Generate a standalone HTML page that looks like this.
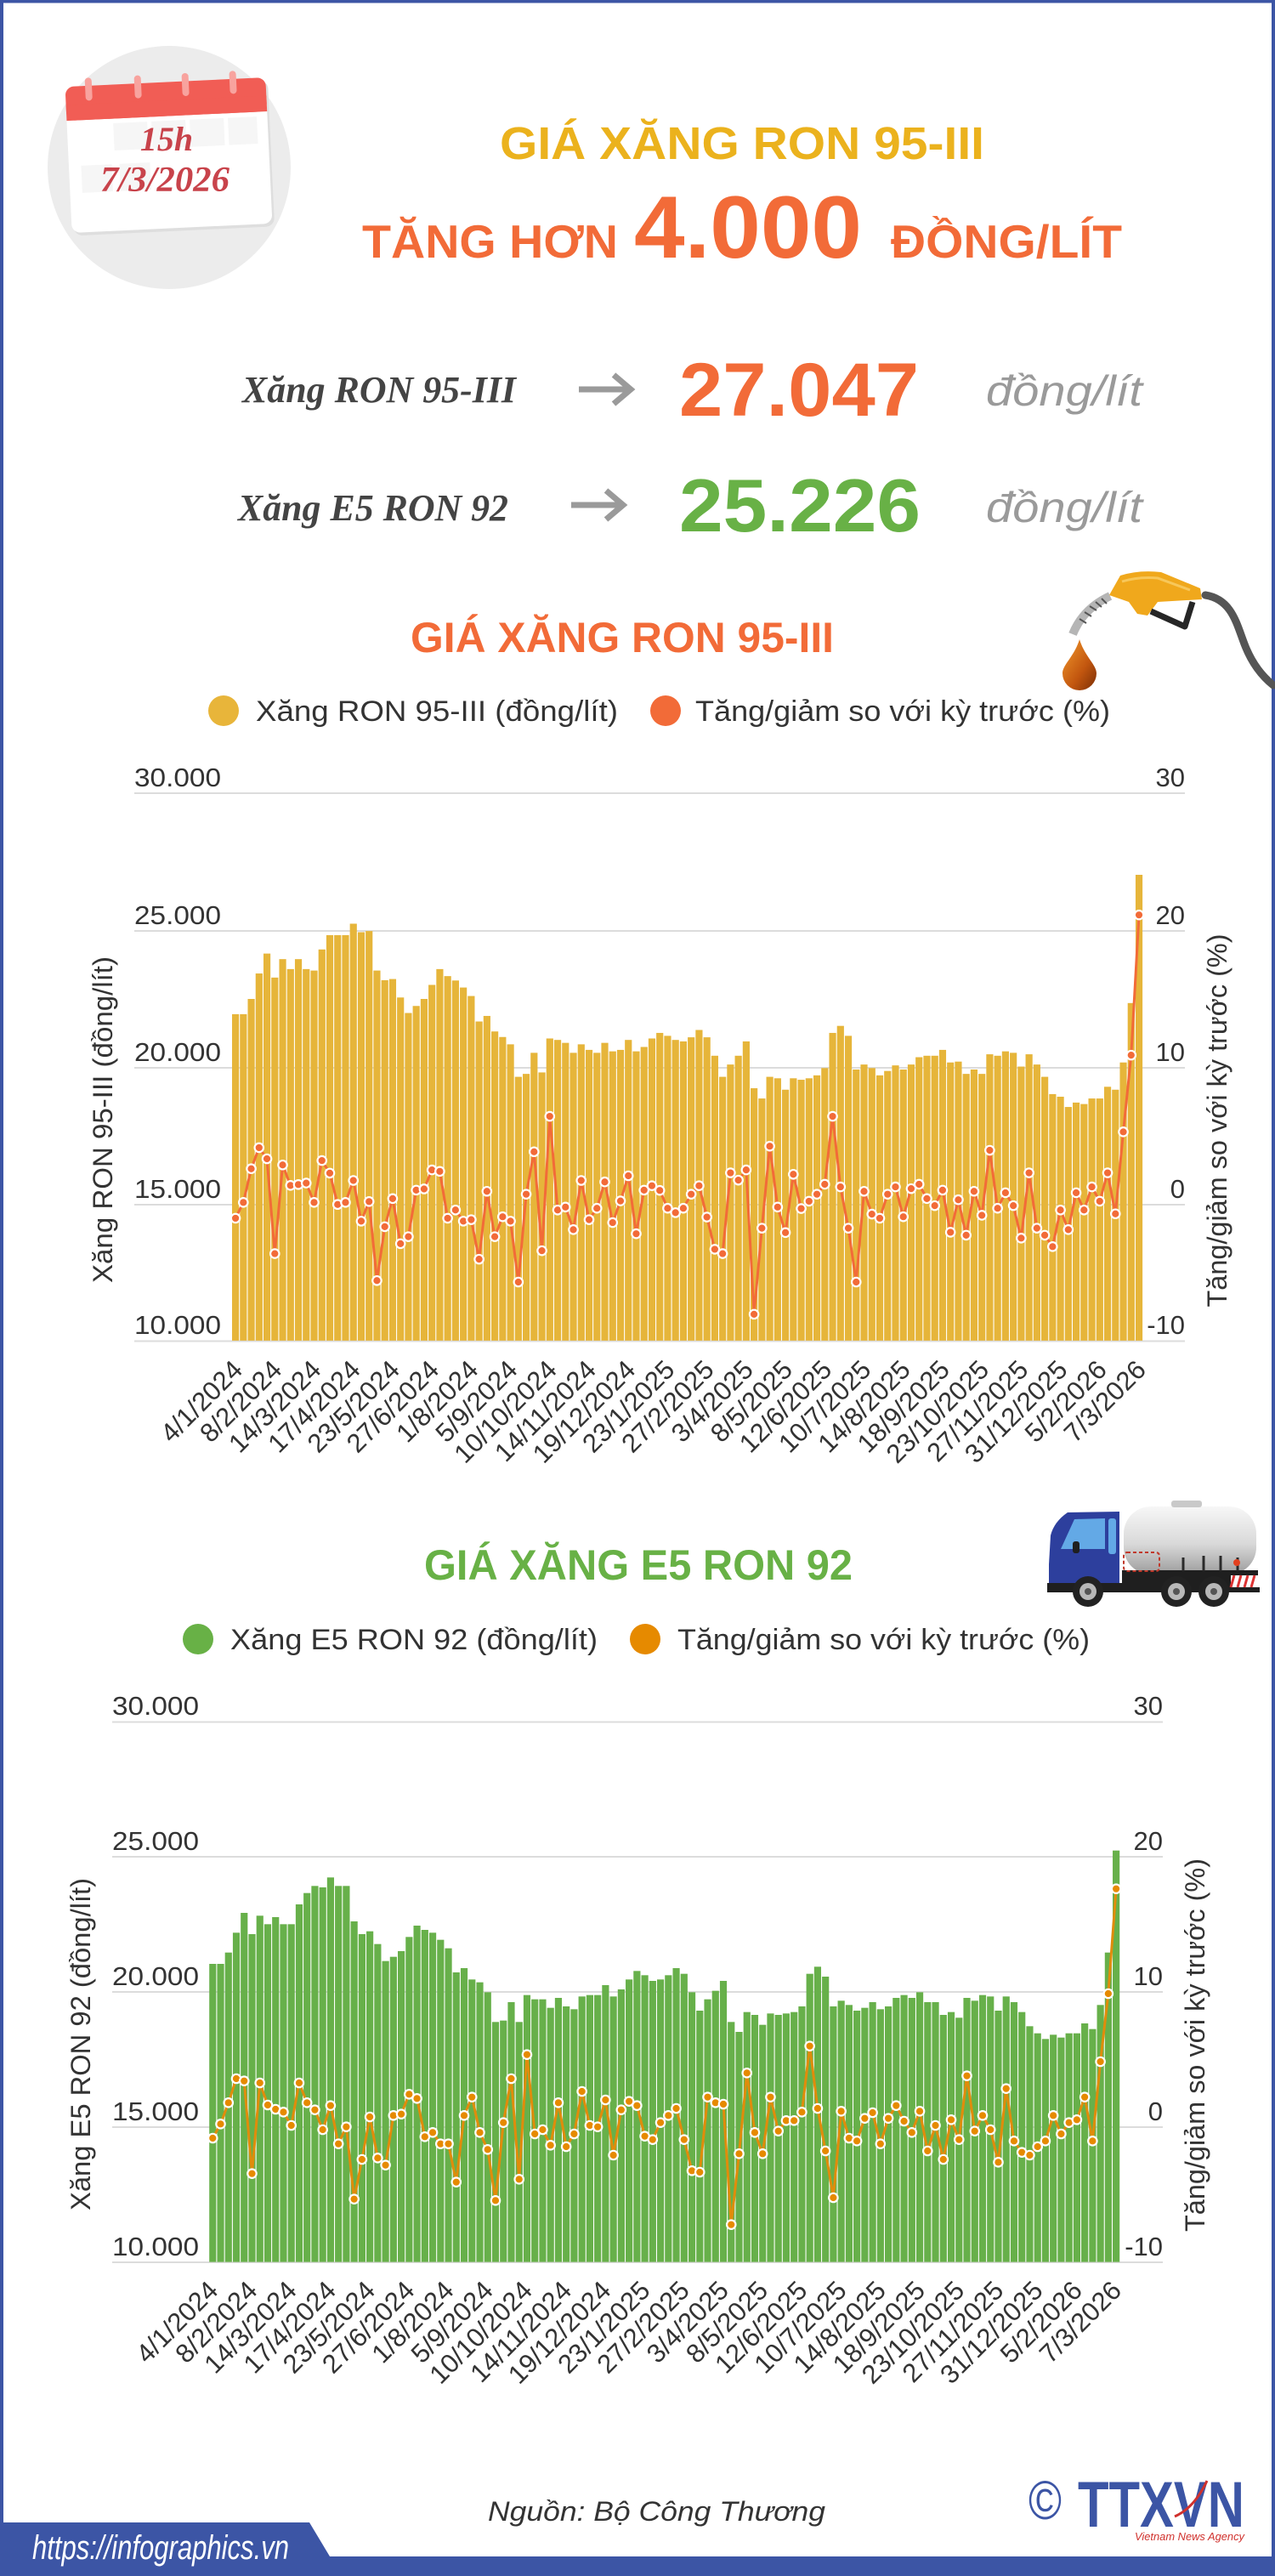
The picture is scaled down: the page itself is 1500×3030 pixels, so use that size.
<!DOCTYPE html>
<html><head><meta charset="utf-8">
<style>
html,body{margin:0;padding:0;background:#fff}
svg{display:block}
text{font-family:"Liberation Sans",sans-serif}
.ln{fill:none;stroke-width:3;vector-effect:non-scaling-stroke;stroke-linejoin:round}
.dt ellipse{stroke:#fff;stroke-width:2.2;vector-effect:non-scaling-stroke}
</style></head>
<body>
<svg width="1500" height="3030" viewBox="0 0 1500 3030" xmlns="http://www.w3.org/2000/svg">
<defs>
<linearGradient id="tank" x1="0" y1="0" x2="0" y2="1"><stop offset="0" stop-color="#f7f7f7"/><stop offset="0.55" stop-color="#d9d9d9"/><stop offset="1" stop-color="#9c9c9c"/></linearGradient>
<linearGradient id="drop" x1="0" y1="0" x2="1" y2="1"><stop offset="0" stop-color="#f39a2c"/><stop offset="0.6" stop-color="#c2560f"/><stop offset="1" stop-color="#7a2e05"/></linearGradient>
<clipPath id="cl1"><rect x="-2" y="-300" width="130" height="1830"/></clipPath>
<clipPath id="cl2"><rect x="-2" y="-300" width="130" height="1802"/></clipPath>
</defs>
<rect width="1500" height="3030" fill="#fff"/>
<rect x="2" y="1.5" width="1496" height="3027" fill="none" stroke="#3c55a5" stroke-width="4"/>

<!-- calendar -->
<circle cx="199" cy="197" r="143" fill="#ececec"/>
<g transform="rotate(-2.7 198.5 182.5)">
<rect x="83" y="100" width="236" height="172" rx="10" fill="#dedede"/>
<rect x="80.5" y="96.5" width="236" height="172" rx="10" fill="#fff"/>
<rect x="80.5" y="96.5" width="236" height="40" rx="10" fill="#f15d55"/>
<rect x="80.5" y="118" width="236" height="18.5" fill="#f15d55"/>
<rect x="135" y="142" width="40" height="32" fill="#f6f6f6"/><rect x="180" y="142" width="40" height="32" fill="#f6f6f6"/><rect x="225" y="142" width="40" height="32" fill="#f6f6f6"/><rect x="270" y="142" width="34" height="32" fill="#f6f6f6"/>
<rect x="95" y="190" width="36" height="32" fill="#f6f6f6"/><rect x="140" y="190" width="36" height="32" fill="#f6f6f6"/>
<rect x="104" y="87" width="8" height="27" rx="4" fill="#f8a39e"/>
<rect x="162" y="87" width="8" height="27" rx="4" fill="#f8a39e"/>
<rect x="218" y="87" width="8" height="27" rx="4" fill="#f8a39e"/>
<rect x="274" y="87" width="8" height="27" rx="4" fill="#f8a39e"/>
</g>
<text x="196" y="177" text-anchor="middle" font-size="40" font-weight="700" font-style="italic" fill="#c8434b" style="font-family:'Liberation Serif',serif">15h</text>
<text x="194" y="225" text-anchor="middle" font-size="42" font-weight="700" font-style="italic" fill="#c8434b" textLength="152" lengthAdjust="spacingAndGlyphs" style="font-family:'Liberation Serif',serif">7/3/2026</text>

<!-- header titles -->
<text x="588" y="187" font-size="54" font-weight="700" fill="#ebb21d" textLength="570" lengthAdjust="spacingAndGlyphs">GIÁ XĂNG RON 95-III</text>
<text x="426" y="303" font-size="55" font-weight="700" fill="#f26b38" textLength="301" lengthAdjust="spacingAndGlyphs">TĂNG HƠN</text>
<text x="746" y="303" font-size="104" font-weight="700" fill="#f26b38" textLength="268" lengthAdjust="spacingAndGlyphs">4.000</text>
<text x="1048" y="303" font-size="55" font-weight="700" fill="#f26b38" textLength="272" lengthAdjust="spacingAndGlyphs">ĐỒNG/LÍT</text>

<text x="285" y="473" font-size="44" font-weight="700" font-style="italic" fill="#444" textLength="322" lengthAdjust="spacingAndGlyphs" style="font-family:'Liberation Serif',serif">Xăng RON 95-III</text>
<path d="M681,458 H740 M722,441 L742,458 L722,475" fill="none" stroke="#9a9a9a" stroke-width="7"/>
<text x="799" y="489" font-size="89" font-weight="700" fill="#f26b38" textLength="282" lengthAdjust="spacingAndGlyphs">27.047</text>
<text x="1160" y="477" font-size="50" font-style="italic" fill="#9a9a9a" textLength="184" lengthAdjust="spacingAndGlyphs">đồng/lít</text>

<text x="280" y="612" font-size="44" font-weight="700" font-style="italic" fill="#444" textLength="318" lengthAdjust="spacingAndGlyphs" style="font-family:'Liberation Serif',serif">Xăng E5 RON 92</text>
<path d="M672,594 H731 M713,577 L733,594 L713,611" fill="none" stroke="#9a9a9a" stroke-width="7"/>
<text x="799" y="625" font-size="88" font-weight="700" fill="#68b146" textLength="284" lengthAdjust="spacingAndGlyphs">25.226</text>
<text x="1160" y="614" font-size="50" font-style="italic" fill="#9a9a9a" textLength="184" lengthAdjust="spacingAndGlyphs">đồng/lít</text>

<!-- nozzle -->
<path d="M1418,700 C1450,705 1455,735 1465,760 C1475,785 1488,798 1498,806" fill="none" stroke="#555" stroke-width="9" stroke-linecap="round"/>
<path d="M1262,746 Q1274,716 1306,701" fill="none" stroke="#b5b5b5" stroke-width="10"/>
<path d="M1270,728 l8,5 M1276,720 l8,5 M1282,713 l8,5 M1289,708 l7,6 M1296,704 l6,6" stroke="#555" stroke-width="2"/>
<path d="M1305,700 L1318,677 Q1340,670 1366,673 L1412,692 L1414,705 L1362,708 L1350,724 L1338,722 L1328,708 Z" fill="#f0a81c"/>
<path d="M1320,684 Q1340,678 1362,680 L1400,694" fill="none" stroke="#f7c75a" stroke-width="3"/>
<path d="M1354,719 L1394,737 L1403,708" fill="none" stroke="#262626" stroke-width="7" stroke-linejoin="round"/>
<path d="M1270,752 C1264,772 1250,782 1250,792 A20,20 0 0 0 1290,792 C1290,782 1276,772 1270,752 Z" fill="url(#drop)"/>

<!-- CHART 1 -->
<text x="483" y="767" font-size="50" font-weight="700" fill="#f26b38" textLength="498" lengthAdjust="spacingAndGlyphs">GIÁ XĂNG RON 95-III</text>
<circle cx="263" cy="836" r="18" fill="#e8b53a"/>
<text x="301" y="848" font-size="34" fill="#333" textLength="426" lengthAdjust="spacingAndGlyphs">Xăng RON 95-III (đồng/lít)</text>
<circle cx="783" cy="836" r="18" fill="#f26b38"/>
<text x="818" y="848" font-size="34" fill="#333" textLength="488" lengthAdjust="spacingAndGlyphs">Tăng/giảm so với kỳ trước (%)</text>

<g stroke="#dcdcdc" stroke-width="2">
<line x1="158" y1="933" x2="1394" y2="933"/><line x1="158" y1="1095" x2="1394" y2="1095"/><line x1="158" y1="1256" x2="1394" y2="1256"/><line x1="158" y1="1417" x2="1394" y2="1417"/><line x1="158" y1="1577.5" x2="1394" y2="1577.5"/>
</g>
<g font-size="31" fill="#333">
<text x="158" y="925" textLength="102" lengthAdjust="spacingAndGlyphs">30.000</text>
<text x="158" y="1087" textLength="102" lengthAdjust="spacingAndGlyphs">25.000</text>
<text x="158" y="1248" textLength="102" lengthAdjust="spacingAndGlyphs">20.000</text>
<text x="158" y="1409" textLength="102" lengthAdjust="spacingAndGlyphs">15.000</text>
<text x="158" y="1569" textLength="102" lengthAdjust="spacingAndGlyphs">10.000</text>
</g>
<g font-size="31" fill="#333" text-anchor="end">
<text x="1394" y="925">30</text><text x="1394" y="1087">20</text><text x="1394" y="1248">10</text><text x="1394" y="1409">0</text><text x="1394" y="1569">-10</text>
</g>
<text transform="translate(132,1317) rotate(-90)" text-anchor="middle" font-size="32" fill="#333" textLength="384" lengthAdjust="spacingAndGlyphs">Xăng RON 95-III (đồng/lít)</text>
<text transform="translate(1443,1318) rotate(-90)" text-anchor="middle" font-size="32" fill="#333" textLength="439" lengthAdjust="spacingAndGlyphs">Tăng/giảm so với kỳ trước (%)</text>

<g transform="translate(273,1050) scale(9.243,0.344353)">
<g clip-path="url(#cl1)" fill="#e6b53a">
<rect x="0" y="415" width=".885" height="1700"/><rect x="1" y="415" width=".885" height="1700"/><rect x="2" y="363" width=".885" height="1700"/><rect x="3" y="276" width=".885" height="1700"/><rect x="4" y="208" width=".885" height="1700"/><rect x="5" y="290" width=".885" height="1700"/><rect x="6" y="227" width=".885" height="1700"/><rect x="7" y="261" width=".885" height="1700"/><rect x="8" y="227" width=".885" height="1700"/><rect x="9" y="261" width=".885" height="1700"/>
<rect x="10" y="266" width=".885" height="1700"/><rect x="11" y="194" width=".885" height="1700"/><rect x="12" y="145" width=".885" height="1700"/><rect x="13" y="145" width=".885" height="1700"/><rect x="14" y="145" width=".885" height="1700"/><rect x="15" y="106" width=".885" height="1700"/><rect x="16" y="135" width=".885" height="1700"/><rect x="17" y="131" width=".885" height="1700"/><rect x="18" y="266" width=".885" height="1700"/><rect x="19" y="299" width=".885" height="1700"/>
<rect x="20" y="295" width=".885" height="1700"/><rect x="21" y="358" width=".885" height="1700"/><rect x="22" y="411" width=".885" height="1700"/><rect x="23" y="387" width=".885" height="1700"/><rect x="24" y="363" width=".885" height="1700"/><rect x="25" y="315" width=".885" height="1700"/><rect x="26" y="261" width=".885" height="1700"/><rect x="27" y="285" width=".885" height="1700"/><rect x="28" y="300" width=".885" height="1700"/><rect x="29" y="324" width=".885" height="1700"/>
<rect x="30" y="353" width=".885" height="1700"/><rect x="31" y="440" width=".885" height="1700"/><rect x="32" y="421" width=".885" height="1700"/><rect x="33" y="474" width=".885" height="1700"/><rect x="34" y="493" width=".885" height="1700"/><rect x="35" y="518" width=".885" height="1700"/><rect x="36" y="629" width=".885" height="1700"/><rect x="37" y="619" width=".885" height="1700"/><rect x="38" y="547" width=".885" height="1700"/><rect x="39" y="614" width=".885" height="1700"/>
<rect x="40" y="498" width=".885" height="1700"/><rect x="41" y="503" width=".885" height="1700"/><rect x="42" y="513" width=".885" height="1700"/><rect x="43" y="547" width=".885" height="1700"/><rect x="44" y="518" width=".885" height="1700"/><rect x="45" y="537" width=".885" height="1700"/><rect x="46" y="547" width=".885" height="1700"/><rect x="47" y="513" width=".885" height="1700"/><rect x="48" y="542" width=".885" height="1700"/><rect x="49" y="537" width=".885" height="1700"/>
<rect x="50" y="503" width=".885" height="1700"/><rect x="51" y="542" width=".885" height="1700"/><rect x="52" y="527" width=".885" height="1700"/><rect x="53" y="498" width=".885" height="1700"/><rect x="54" y="479" width=".885" height="1700"/><rect x="55" y="489" width=".885" height="1700"/><rect x="56" y="503" width=".885" height="1700"/><rect x="57" y="508" width=".885" height="1700"/><rect x="58" y="494" width=".885" height="1700"/><rect x="59" y="469" width=".885" height="1700"/>
<rect x="60" y="494" width=".885" height="1700"/><rect x="61" y="557" width=".885" height="1700"/><rect x="62" y="629" width=".885" height="1700"/><rect x="63" y="587" width=".885" height="1700"/><rect x="64" y="557" width=".885" height="1700"/><rect x="65" y="508" width=".885" height="1700"/><rect x="66" y="668" width=".885" height="1700"/><rect x="67" y="703" width=".885" height="1700"/><rect x="68" y="629" width=".885" height="1700"/><rect x="69" y="634" width=".885" height="1700"/>
<rect x="70" y="673" width=".885" height="1700"/><rect x="71" y="634" width=".885" height="1700"/><rect x="72" y="639" width=".885" height="1700"/><rect x="73" y="634" width=".885" height="1700"/><rect x="74" y="624" width=".885" height="1700"/><rect x="75" y="599" width=".885" height="1700"/><rect x="76" y="479" width=".885" height="1700"/><rect x="77" y="455" width=".885" height="1700"/><rect x="78" y="489" width=".885" height="1700"/><rect x="79" y="604" width=".885" height="1700"/>
<rect x="80" y="587" width=".885" height="1700"/><rect x="81" y="599" width=".885" height="1700"/><rect x="82" y="624" width=".885" height="1700"/><rect x="83" y="609" width=".885" height="1700"/><rect x="84" y="590" width=".885" height="1700"/><rect x="85" y="604" width=".885" height="1700"/><rect x="86" y="587" width=".885" height="1700"/><rect x="87" y="562" width=".885" height="1700"/><rect x="88" y="557" width=".885" height="1700"/><rect x="89" y="557" width=".885" height="1700"/>
<rect x="90" y="537" width=".885" height="1700"/><rect x="91" y="580" width=".885" height="1700"/><rect x="92" y="577" width=".885" height="1700"/><rect x="93" y="619" width=".885" height="1700"/><rect x="94" y="604" width=".885" height="1700"/><rect x="95" y="619" width=".885" height="1700"/><rect x="96" y="552" width=".885" height="1700"/><rect x="97" y="557" width=".885" height="1700"/><rect x="98" y="542" width=".885" height="1700"/><rect x="99" y="547" width=".885" height="1700"/>
<rect x="100" y="594" width=".885" height="1700"/><rect x="101" y="552" width=".885" height="1700"/><rect x="102" y="587" width=".885" height="1700"/><rect x="103" y="629" width=".885" height="1700"/><rect x="104" y="688" width=".885" height="1700"/><rect x="105" y="697" width=".885" height="1700"/><rect x="106" y="732" width=".885" height="1700"/><rect x="107" y="717" width=".885" height="1700"/><rect x="108" y="722" width=".885" height="1700"/><rect x="109" y="703" width=".885" height="1700"/>
<rect x="110" y="703" width=".885" height="1700"/><rect x="111" y="663" width=".885" height="1700"/><rect x="112" y="673" width=".885" height="1700"/><rect x="113" y="580" width=".885" height="1700"/><rect x="114" y="377" width=".885" height="1700"/><rect x="115" y="-61" width=".885" height="1700"/>
</g>
<polyline class="ln" stroke="#f26b38" points="0.44,1112 1.44,1058 2.44,943 3.44,871 4.44,909 5.44,1233 6.44,930 7.44,1000 8.44,997 9.44,992 10.44,1058 11.44,915 12.44,958 13.44,1065 14.44,1058 15.44,983 16.44,1122 17.44,1055 18.44,1325 19.44,1141 20.44,1045 21.44,1199 22.44,1175 23.44,1016 24.44,1012 25.44,947 26.44,952 27.44,1112 28.44,1084 29.44,1122 30.44,1117 31.44,1252 32.44,1020 33.44,1175 34.44,1107 35.44,1122 36.44,1330 37.44,1030 38.44,885 39.44,1223 40.44,764 41.44,1084 42.44,1074 43.44,1151 44.44,983 45.44,1117 46.44,1078 47.44,988 48.44,1127 49.44,1053 50.44,967 51.44,1165 52.44,1016 53.44,1001 54.44,1017 55.44,1078 56.44,1093 57.44,1078 58.44,1030 59.44,1001 60.44,1108 61.44,1218 62.44,1233 63.44,957 64.44,982 65.44,947 66.44,1440 67.44,1146 68.44,866 69.44,1074 70.44,1161 71.44,962 72.44,1079 73.44,1054 74.44,1030 75.44,996 76.44,764 77.44,1005 78.44,1146 79.44,1330 80.44,1020 81.44,1098 82.44,1112 83.44,1030 84.44,1005 85.44,1107 86.44,1011 87.44,996 88.44,1045 89.44,1069 90.44,1016 91.44,1160 92.44,1049 93.44,1170 94.44,1020 95.44,1102 96.44,880 97.44,1078 98.44,1025 99.44,1069 100.44,1180 101.44,957 102.44,1146 103.44,1170 104.44,1209 105.44,1084 106.44,1151 107.44,1025 108.44,1084 109.44,1005 110.44,1054 111.44,957 112.44,1097 113.44,817 114.44,555 115.44,76"/>
<g class="dt" fill="#f26b38">
<ellipse cx="0.44" cy="1112" rx=".563" ry="15.1"/><ellipse cx="1.44" cy="1058" rx=".563" ry="15.1"/><ellipse cx="2.44" cy="943" rx=".563" ry="15.1"/><ellipse cx="3.44" cy="871" rx=".563" ry="15.1"/><ellipse cx="4.44" cy="909" rx=".563" ry="15.1"/><ellipse cx="5.44" cy="1233" rx=".563" ry="15.1"/><ellipse cx="6.44" cy="930" rx=".563" ry="15.1"/><ellipse cx="7.44" cy="1000" rx=".563" ry="15.1"/><ellipse cx="8.44" cy="997" rx=".563" ry="15.1"/><ellipse cx="9.44" cy="992" rx=".563" ry="15.1"/>
<ellipse cx="10.44" cy="1058" rx=".563" ry="15.1"/><ellipse cx="11.44" cy="915" rx=".563" ry="15.1"/><ellipse cx="12.44" cy="958" rx=".563" ry="15.1"/><ellipse cx="13.44" cy="1065" rx=".563" ry="15.1"/><ellipse cx="14.44" cy="1058" rx=".563" ry="15.1"/><ellipse cx="15.44" cy="983" rx=".563" ry="15.1"/><ellipse cx="16.44" cy="1122" rx=".563" ry="15.1"/><ellipse cx="17.44" cy="1055" rx=".563" ry="15.1"/><ellipse cx="18.44" cy="1325" rx=".563" ry="15.1"/><ellipse cx="19.44" cy="1141" rx=".563" ry="15.1"/>
<ellipse cx="20.44" cy="1045" rx=".563" ry="15.1"/><ellipse cx="21.44" cy="1199" rx=".563" ry="15.1"/><ellipse cx="22.44" cy="1175" rx=".563" ry="15.1"/><ellipse cx="23.44" cy="1016" rx=".563" ry="15.1"/><ellipse cx="24.44" cy="1012" rx=".563" ry="15.1"/><ellipse cx="25.44" cy="947" rx=".563" ry="15.1"/><ellipse cx="26.44" cy="952" rx=".563" ry="15.1"/><ellipse cx="27.44" cy="1112" rx=".563" ry="15.1"/><ellipse cx="28.44" cy="1084" rx=".563" ry="15.1"/><ellipse cx="29.44" cy="1122" rx=".563" ry="15.1"/>
<ellipse cx="30.44" cy="1117" rx=".563" ry="15.1"/><ellipse cx="31.44" cy="1252" rx=".563" ry="15.1"/><ellipse cx="32.44" cy="1020" rx=".563" ry="15.1"/><ellipse cx="33.44" cy="1175" rx=".563" ry="15.1"/><ellipse cx="34.44" cy="1107" rx=".563" ry="15.1"/><ellipse cx="35.44" cy="1122" rx=".563" ry="15.1"/><ellipse cx="36.44" cy="1330" rx=".563" ry="15.1"/><ellipse cx="37.44" cy="1030" rx=".563" ry="15.1"/><ellipse cx="38.44" cy="885" rx=".563" ry="15.1"/><ellipse cx="39.44" cy="1223" rx=".563" ry="15.1"/>
<ellipse cx="40.44" cy="764" rx=".563" ry="15.1"/><ellipse cx="41.44" cy="1084" rx=".563" ry="15.1"/><ellipse cx="42.44" cy="1074" rx=".563" ry="15.1"/><ellipse cx="43.44" cy="1151" rx=".563" ry="15.1"/><ellipse cx="44.44" cy="983" rx=".563" ry="15.1"/><ellipse cx="45.44" cy="1117" rx=".563" ry="15.1"/><ellipse cx="46.44" cy="1078" rx=".563" ry="15.1"/><ellipse cx="47.44" cy="988" rx=".563" ry="15.1"/><ellipse cx="48.44" cy="1127" rx=".563" ry="15.1"/><ellipse cx="49.44" cy="1053" rx=".563" ry="15.1"/>
<ellipse cx="50.44" cy="967" rx=".563" ry="15.1"/><ellipse cx="51.44" cy="1165" rx=".563" ry="15.1"/><ellipse cx="52.44" cy="1016" rx=".563" ry="15.1"/><ellipse cx="53.44" cy="1001" rx=".563" ry="15.1"/><ellipse cx="54.44" cy="1017" rx=".563" ry="15.1"/><ellipse cx="55.44" cy="1078" rx=".563" ry="15.1"/><ellipse cx="56.44" cy="1093" rx=".563" ry="15.1"/><ellipse cx="57.44" cy="1078" rx=".563" ry="15.1"/><ellipse cx="58.44" cy="1030" rx=".563" ry="15.1"/><ellipse cx="59.44" cy="1001" rx=".563" ry="15.1"/>
<ellipse cx="60.44" cy="1108" rx=".563" ry="15.1"/><ellipse cx="61.44" cy="1218" rx=".563" ry="15.1"/><ellipse cx="62.44" cy="1233" rx=".563" ry="15.1"/><ellipse cx="63.44" cy="957" rx=".563" ry="15.1"/><ellipse cx="64.44" cy="982" rx=".563" ry="15.1"/><ellipse cx="65.44" cy="947" rx=".563" ry="15.1"/><ellipse cx="66.44" cy="1440" rx=".563" ry="15.1"/><ellipse cx="67.44" cy="1146" rx=".563" ry="15.1"/><ellipse cx="68.44" cy="866" rx=".563" ry="15.1"/><ellipse cx="69.44" cy="1074" rx=".563" ry="15.1"/>
<ellipse cx="70.44" cy="1161" rx=".563" ry="15.1"/><ellipse cx="71.44" cy="962" rx=".563" ry="15.1"/><ellipse cx="72.44" cy="1079" rx=".563" ry="15.1"/><ellipse cx="73.44" cy="1054" rx=".563" ry="15.1"/><ellipse cx="74.44" cy="1030" rx=".563" ry="15.1"/><ellipse cx="75.44" cy="996" rx=".563" ry="15.1"/><ellipse cx="76.44" cy="764" rx=".563" ry="15.1"/><ellipse cx="77.44" cy="1005" rx=".563" ry="15.1"/><ellipse cx="78.44" cy="1146" rx=".563" ry="15.1"/><ellipse cx="79.44" cy="1330" rx=".563" ry="15.1"/>
<ellipse cx="80.44" cy="1020" rx=".563" ry="15.1"/><ellipse cx="81.44" cy="1098" rx=".563" ry="15.1"/><ellipse cx="82.44" cy="1112" rx=".563" ry="15.1"/><ellipse cx="83.44" cy="1030" rx=".563" ry="15.1"/><ellipse cx="84.44" cy="1005" rx=".563" ry="15.1"/><ellipse cx="85.44" cy="1107" rx=".563" ry="15.1"/><ellipse cx="86.44" cy="1011" rx=".563" ry="15.1"/><ellipse cx="87.44" cy="996" rx=".563" ry="15.1"/><ellipse cx="88.44" cy="1045" rx=".563" ry="15.1"/><ellipse cx="89.44" cy="1069" rx=".563" ry="15.1"/>
<ellipse cx="90.44" cy="1016" rx=".563" ry="15.1"/><ellipse cx="91.44" cy="1160" rx=".563" ry="15.1"/><ellipse cx="92.44" cy="1049" rx=".563" ry="15.1"/><ellipse cx="93.44" cy="1170" rx=".563" ry="15.1"/><ellipse cx="94.44" cy="1020" rx=".563" ry="15.1"/><ellipse cx="95.44" cy="1102" rx=".563" ry="15.1"/><ellipse cx="96.44" cy="880" rx=".563" ry="15.1"/><ellipse cx="97.44" cy="1078" rx=".563" ry="15.1"/><ellipse cx="98.44" cy="1025" rx=".563" ry="15.1"/><ellipse cx="99.44" cy="1069" rx=".563" ry="15.1"/>
<ellipse cx="100.44" cy="1180" rx=".563" ry="15.1"/><ellipse cx="101.44" cy="957" rx=".563" ry="15.1"/><ellipse cx="102.44" cy="1146" rx=".563" ry="15.1"/><ellipse cx="103.44" cy="1170" rx=".563" ry="15.1"/><ellipse cx="104.44" cy="1209" rx=".563" ry="15.1"/><ellipse cx="105.44" cy="1084" rx=".563" ry="15.1"/><ellipse cx="106.44" cy="1151" rx=".563" ry="15.1"/><ellipse cx="107.44" cy="1025" rx=".563" ry="15.1"/><ellipse cx="108.44" cy="1084" rx=".563" ry="15.1"/><ellipse cx="109.44" cy="1005" rx=".563" ry="15.1"/>
<ellipse cx="110.44" cy="1054" rx=".563" ry="15.1"/><ellipse cx="111.44" cy="957" rx=".563" ry="15.1"/><ellipse cx="112.44" cy="1097" rx=".563" ry="15.1"/><ellipse cx="113.44" cy="817" rx=".563" ry="15.1"/><ellipse cx="114.44" cy="555" rx=".563" ry="15.1"/><ellipse cx="115.44" cy="76" rx=".563" ry="15.1"/>
</g>
</g>

<g font-size="31" fill="#333" text-anchor="end">
<text transform="translate(287.1,1613) rotate(-45)">4/1/2024</text>
<text transform="translate(333.3,1613) rotate(-45)">8/2/2024</text>
<text transform="translate(379.5,1613) rotate(-45)">14/3/2024</text>
<text transform="translate(425.7,1613) rotate(-45)">17/4/2024</text>
<text transform="translate(472,1613) rotate(-45)">23/5/2024</text>
<text transform="translate(518.2,1613) rotate(-45)">27/6/2024</text>
<text transform="translate(564.4,1613) rotate(-45)">1/8/2024</text>
<text transform="translate(610.6,1613) rotate(-45)">5/9/2024</text>
<text transform="translate(656.8,1613) rotate(-45)">10/10/2024</text>
<text transform="translate(703,1613) rotate(-45)">14/11/2024</text>
<text transform="translate(749.3,1613) rotate(-45)">19/12/2024</text>
<text transform="translate(795.5,1613) rotate(-45)">23/1/2025</text>
<text transform="translate(841.7,1613) rotate(-45)">27/2/2025</text>
<text transform="translate(887.9,1613) rotate(-45)">3/4/2025</text>
<text transform="translate(934.1,1613) rotate(-45)">8/5/2025</text>
<text transform="translate(980.3,1613) rotate(-45)">12/6/2025</text>
<text transform="translate(1026.5,1613) rotate(-45)">10/7/2025</text>
<text transform="translate(1072.8,1613) rotate(-45)">14/8/2025</text>
<text transform="translate(1119,1613) rotate(-45)">18/9/2025</text>
<text transform="translate(1165.2,1613) rotate(-45)">23/10/2025</text>
<text transform="translate(1211.4,1613) rotate(-45)">27/11/2025</text>
<text transform="translate(1257.6,1613) rotate(-45)">31/12/2025</text>
<text transform="translate(1303.8,1613) rotate(-45)">5/2/2026</text>
<text transform="translate(1350,1613) rotate(-45)">7/3/2026</text>
</g>

<!-- truck -->
<g>
<rect x="1322" y="1772" width="156" height="80" rx="32" fill="url(#tank)"/>
<rect x="1378" y="1765" width="36" height="8" rx="3" fill="#c9c9c9"/>
<rect x="1320" y="1847" width="160" height="15" fill="#1f1f1f"/>
<path d="M1392,1832 v16 M1416,1830 v18 M1436,1830 v18 M1456,1832 v16" stroke="#2a2a2a" stroke-width="3"/>
<circle cx="1455" cy="1838" r="4" fill="#e2401f"/>
<path d="M1234,1840 L1236,1806 Q1240,1790 1256,1779 L1317,1778 L1317,1866 L1234,1866 Z" fill="#2d3f9d"/>
<path d="M1248,1822 L1264,1787 L1300,1786 L1300,1822 Z" fill="#63a9e6"/>
<rect x="1304" y="1786" width="9" height="42" rx="3" fill="#63a9e6"/>
<rect x="1262" y="1813" width="8" height="14" rx="3" fill="#1f1f1f"/>
<rect x="1232" y="1862" width="250" height="11" fill="#1f1f1f"/>
<rect x="1322" y="1826" width="42" height="22" rx="4" fill="none" stroke="#c0392b" stroke-width="2" stroke-dasharray="4 3"/>
<rect x="1448" y="1853" width="35" height="14" fill="#fff"/>
<path d="M1452,1853 l-4,14 M1460,1853 l-4,14 M1468,1853 l-4,14 M1476,1853 l-4,14" stroke="#d33" stroke-width="3"/>
<circle cx="1280" cy="1872" r="18" fill="#222"/><circle cx="1280" cy="1872" r="10" fill="#b8b8b8"/><circle cx="1280" cy="1872" r="4" fill="#555"/>
<circle cx="1384" cy="1872" r="18" fill="#222"/><circle cx="1384" cy="1872" r="10" fill="#b8b8b8"/><circle cx="1384" cy="1872" r="4" fill="#555"/>
<circle cx="1428" cy="1872" r="18" fill="#222"/><circle cx="1428" cy="1872" r="10" fill="#b8b8b8"/><circle cx="1428" cy="1872" r="4" fill="#555"/>
</g>

<!-- CHART 2 -->
<text x="499" y="1858" font-size="50" font-weight="700" fill="#68b146" textLength="504" lengthAdjust="spacingAndGlyphs">GIÁ XĂNG E5 RON 92</text>
<circle cx="233" cy="1928" r="18" fill="#68b146"/>
<text x="271" y="1940" font-size="34" fill="#333" textLength="432" lengthAdjust="spacingAndGlyphs">Xăng E5 RON 92 (đồng/lít)</text>
<circle cx="759" cy="1928" r="18" fill="#e68a00"/>
<text x="797" y="1940" font-size="34" fill="#333" textLength="485" lengthAdjust="spacingAndGlyphs">Tăng/giảm so với kỳ trước (%)</text>

<g stroke="#dcdcdc" stroke-width="2">
<line x1="132" y1="2025.5" x2="1368" y2="2025.5"/><line x1="132" y1="2184" x2="1368" y2="2184"/><line x1="132" y1="2343" x2="1368" y2="2343"/><line x1="132" y1="2502" x2="1368" y2="2502"/><line x1="132" y1="2661" x2="1368" y2="2661"/>
</g>
<g font-size="31" fill="#333">
<text x="132" y="2017" textLength="102" lengthAdjust="spacingAndGlyphs">30.000</text>
<text x="132" y="2176" textLength="102" lengthAdjust="spacingAndGlyphs">25.000</text>
<text x="132" y="2335" textLength="102" lengthAdjust="spacingAndGlyphs">20.000</text>
<text x="132" y="2494" textLength="102" lengthAdjust="spacingAndGlyphs">15.000</text>
<text x="132" y="2653" textLength="102" lengthAdjust="spacingAndGlyphs">10.000</text>
</g>
<g font-size="31" fill="#333" text-anchor="end">
<text x="1368" y="2017">30</text><text x="1368" y="2176">20</text><text x="1368" y="2335">10</text><text x="1368" y="2494">0</text><text x="1368" y="2653">-10</text>
</g>
<text transform="translate(106,2404.5) rotate(-90)" text-anchor="middle" font-size="32" fill="#333" textLength="391" lengthAdjust="spacingAndGlyphs">Xăng E5 RON 92 (đồng/lít)</text>
<text transform="translate(1417,2405.5) rotate(-90)" text-anchor="middle" font-size="32" fill="#333" textLength="439" lengthAdjust="spacingAndGlyphs">Tăng/giảm so với kỳ trước (%)</text>

<g transform="translate(246.2,2160) scale(9.242,0.333333)">
<g clip-path="url(#cl2)" fill="#67b04a">
<rect x="0" y="450" width=".885" height="1700"/><rect x="1" y="450" width=".885" height="1700"/><rect x="2" y="410" width=".885" height="1700"/><rect x="3" y="340" width=".885" height="1700"/><rect x="4" y="270" width=".885" height="1700"/><rect x="5" y="345" width=".885" height="1700"/><rect x="6" y="280" width=".885" height="1700"/><rect x="7" y="310" width=".885" height="1700"/><rect x="8" y="285" width=".885" height="1700"/><rect x="9" y="310" width=".885" height="1700"/>
<rect x="10" y="310" width=".885" height="1700"/><rect x="11" y="240" width=".885" height="1700"/><rect x="12" y="200" width=".885" height="1700"/><rect x="13" y="175" width=".885" height="1700"/><rect x="14" y="180" width=".885" height="1700"/><rect x="15" y="145" width=".885" height="1700"/><rect x="16" y="175" width=".885" height="1700"/><rect x="17" y="175" width=".885" height="1700"/><rect x="18" y="300" width=".885" height="1700"/><rect x="19" y="345" width=".885" height="1700"/>
<rect x="20" y="335" width=".885" height="1700"/><rect x="21" y="380" width=".885" height="1700"/><rect x="22" y="440" width=".885" height="1700"/><rect x="23" y="425" width=".885" height="1700"/><rect x="24" y="405" width=".885" height="1700"/><rect x="25" y="355" width=".885" height="1700"/><rect x="26" y="315" width=".885" height="1700"/><rect x="27" y="330" width=".885" height="1700"/><rect x="28" y="340" width=".885" height="1700"/><rect x="29" y="365" width=".885" height="1700"/>
<rect x="30" y="395" width=".885" height="1700"/><rect x="31" y="480" width=".885" height="1700"/><rect x="32" y="465" width=".885" height="1700"/><rect x="33" y="505" width=".885" height="1700"/><rect x="34" y="515" width=".885" height="1700"/><rect x="35" y="550" width=".885" height="1700"/><rect x="36" y="655" width=".885" height="1700"/><rect x="37" y="650" width=".885" height="1700"/><rect x="38" y="585" width=".885" height="1700"/><rect x="39" y="655" width=".885" height="1700"/>
<rect x="40" y="560" width=".885" height="1700"/><rect x="41" y="575" width=".885" height="1700"/><rect x="42" y="575" width=".885" height="1700"/><rect x="43" y="605" width=".885" height="1700"/><rect x="44" y="570" width=".885" height="1700"/><rect x="45" y="600" width=".885" height="1700"/><rect x="46" y="610" width=".885" height="1700"/><rect x="47" y="565" width=".885" height="1700"/><rect x="48" y="560" width=".885" height="1700"/><rect x="49" y="560" width=".885" height="1700"/>
<rect x="50" y="525" width=".885" height="1700"/><rect x="51" y="565" width=".885" height="1700"/><rect x="52" y="540" width=".885" height="1700"/><rect x="53" y="505" width=".885" height="1700"/><rect x="54" y="475" width=".885" height="1700"/><rect x="55" y="490" width=".885" height="1700"/><rect x="56" y="510" width=".885" height="1700"/><rect x="57" y="505" width=".885" height="1700"/><rect x="58" y="490" width=".885" height="1700"/><rect x="59" y="465" width=".885" height="1700"/>
<rect x="60" y="485" width=".885" height="1700"/><rect x="61" y="550" width=".885" height="1700"/><rect x="62" y="615" width=".885" height="1700"/><rect x="63" y="575" width=".885" height="1700"/><rect x="64" y="545" width=".885" height="1700"/><rect x="65" y="510" width=".885" height="1700"/><rect x="66" y="655" width=".885" height="1700"/><rect x="67" y="690" width=".885" height="1700"/><rect x="68" y="620" width=".885" height="1700"/><rect x="69" y="630" width=".885" height="1700"/>
<rect x="70" y="665" width=".885" height="1700"/><rect x="71" y="625" width=".885" height="1700"/><rect x="72" y="630" width=".885" height="1700"/><rect x="73" y="625" width=".885" height="1700"/><rect x="74" y="620" width=".885" height="1700"/><rect x="75" y="600" width=".885" height="1700"/><rect x="76" y="485" width=".885" height="1700"/><rect x="77" y="460" width=".885" height="1700"/><rect x="78" y="495" width=".885" height="1700"/><rect x="79" y="600" width=".885" height="1700"/>
<rect x="80" y="580" width=".885" height="1700"/><rect x="81" y="595" width=".885" height="1700"/><rect x="82" y="615" width=".885" height="1700"/><rect x="83" y="605" width=".885" height="1700"/><rect x="84" y="585" width=".885" height="1700"/><rect x="85" y="610" width=".885" height="1700"/><rect x="86" y="600" width=".885" height="1700"/><rect x="87" y="570" width=".885" height="1700"/><rect x="88" y="560" width=".885" height="1700"/><rect x="89" y="570" width=".885" height="1700"/>
<rect x="90" y="550" width=".885" height="1700"/><rect x="91" y="585" width=".885" height="1700"/><rect x="92" y="585" width=".885" height="1700"/><rect x="93" y="630" width=".885" height="1700"/><rect x="94" y="620" width=".885" height="1700"/><rect x="95" y="640" width=".885" height="1700"/><rect x="96" y="570" width=".885" height="1700"/><rect x="97" y="580" width=".885" height="1700"/><rect x="98" y="560" width=".885" height="1700"/><rect x="99" y="565" width=".885" height="1700"/>
<rect x="100" y="615" width=".885" height="1700"/><rect x="101" y="565" width=".885" height="1700"/><rect x="102" y="585" width=".885" height="1700"/><rect x="103" y="620" width=".885" height="1700"/><rect x="104" y="670" width=".885" height="1700"/><rect x="105" y="695" width=".885" height="1700"/><rect x="106" y="715" width=".885" height="1700"/><rect x="107" y="700" width=".885" height="1700"/><rect x="108" y="710" width=".885" height="1700"/><rect x="109" y="695" width=".885" height="1700"/>
<rect x="110" y="695" width=".885" height="1700"/><rect x="111" y="660" width=".885" height="1700"/><rect x="112" y="680" width=".885" height="1700"/><rect x="113" y="595" width=".885" height="1700"/><rect x="114" y="410" width=".885" height="1700"/><rect x="115" y="50" width=".885" height="1700"/>
</g>
<polyline class="ln" stroke="#e08c0b" points="0.44,1065 1.44,1015 2.44,940 3.44,855 4.44,863 5.44,1190 6.44,870 7.44,948 8.44,963 9.44,973 10.44,1020 11.44,870 12.44,940 13.44,965 14.44,1035 15.44,950 16.44,1085 17.44,1025 18.44,1280 19.44,1140 20.44,990 21.44,1135 22.44,1160 23.44,985 24.44,980 25.44,910 26.44,925 27.44,1060 28.44,1045 29.44,1085 30.44,1085 31.44,1220 32.44,985 33.44,920 34.44,1045 35.44,1105 36.44,1285 37.44,1010 38.44,855 39.44,1210 40.44,770 41.44,1050 42.44,1035 43.44,1090 44.44,940 45.44,1095 46.44,1050 47.44,900 48.44,1020 49.44,1025 50.44,930 51.44,1125 52.44,965 53.44,935 54.44,950 55.44,1058 56.44,1070 57.44,1010 58.44,985 59.44,960 60.44,1070 61.44,1180 62.44,1185 63.44,920 64.44,940 65.44,945 66.44,1370 67.44,1120 68.44,835 69.44,1045 70.44,1120 71.44,920 72.44,1040 73.44,1003 74.44,1003 75.44,973 76.44,740 77.44,960 78.44,1110 79.44,1275 80.44,970 81.44,1065 82.44,1075 83.44,995 84.44,975 85.44,1085 86.44,995 87.44,950 88.44,1005 89.44,1045 90.44,970 91.44,1110 92.44,1020 93.44,1140 94.44,1000 95.44,1070 96.44,845 97.44,1040 98.44,985 99.44,1035 100.44,1150 101.44,890 102.44,1075 103.44,1115 104.44,1125 105.44,1095 106.44,1075 107.44,985 108.44,1050 109.44,1010 110.44,1000 111.44,920 112.44,1075 113.44,795 114.44,555 115.44,185"/>
<g class="dt" fill="#e68a00">
<ellipse cx="0.44" cy="1065" rx=".563" ry="15.6"/><ellipse cx="1.44" cy="1015" rx=".563" ry="15.6"/><ellipse cx="2.44" cy="940" rx=".563" ry="15.6"/><ellipse cx="3.44" cy="855" rx=".563" ry="15.6"/><ellipse cx="4.44" cy="863" rx=".563" ry="15.6"/><ellipse cx="5.44" cy="1190" rx=".563" ry="15.6"/><ellipse cx="6.44" cy="870" rx=".563" ry="15.6"/><ellipse cx="7.44" cy="948" rx=".563" ry="15.6"/><ellipse cx="8.44" cy="963" rx=".563" ry="15.6"/><ellipse cx="9.44" cy="973" rx=".563" ry="15.6"/>
<ellipse cx="10.44" cy="1020" rx=".563" ry="15.6"/><ellipse cx="11.44" cy="870" rx=".563" ry="15.6"/><ellipse cx="12.44" cy="940" rx=".563" ry="15.6"/><ellipse cx="13.44" cy="965" rx=".563" ry="15.6"/><ellipse cx="14.44" cy="1035" rx=".563" ry="15.6"/><ellipse cx="15.44" cy="950" rx=".563" ry="15.6"/><ellipse cx="16.44" cy="1085" rx=".563" ry="15.6"/><ellipse cx="17.44" cy="1025" rx=".563" ry="15.6"/><ellipse cx="18.44" cy="1280" rx=".563" ry="15.6"/><ellipse cx="19.44" cy="1140" rx=".563" ry="15.6"/>
<ellipse cx="20.44" cy="990" rx=".563" ry="15.6"/><ellipse cx="21.44" cy="1135" rx=".563" ry="15.6"/><ellipse cx="22.44" cy="1160" rx=".563" ry="15.6"/><ellipse cx="23.44" cy="985" rx=".563" ry="15.6"/><ellipse cx="24.44" cy="980" rx=".563" ry="15.6"/><ellipse cx="25.44" cy="910" rx=".563" ry="15.6"/><ellipse cx="26.44" cy="925" rx=".563" ry="15.6"/><ellipse cx="27.44" cy="1060" rx=".563" ry="15.6"/><ellipse cx="28.44" cy="1045" rx=".563" ry="15.6"/><ellipse cx="29.44" cy="1085" rx=".563" ry="15.6"/>
<ellipse cx="30.44" cy="1085" rx=".563" ry="15.6"/><ellipse cx="31.44" cy="1220" rx=".563" ry="15.6"/><ellipse cx="32.44" cy="985" rx=".563" ry="15.6"/><ellipse cx="33.44" cy="920" rx=".563" ry="15.6"/><ellipse cx="34.44" cy="1045" rx=".563" ry="15.6"/><ellipse cx="35.44" cy="1105" rx=".563" ry="15.6"/><ellipse cx="36.44" cy="1285" rx=".563" ry="15.6"/><ellipse cx="37.44" cy="1010" rx=".563" ry="15.6"/><ellipse cx="38.44" cy="855" rx=".563" ry="15.6"/><ellipse cx="39.44" cy="1210" rx=".563" ry="15.6"/>
<ellipse cx="40.44" cy="770" rx=".563" ry="15.6"/><ellipse cx="41.44" cy="1050" rx=".563" ry="15.6"/><ellipse cx="42.44" cy="1035" rx=".563" ry="15.6"/><ellipse cx="43.44" cy="1090" rx=".563" ry="15.6"/><ellipse cx="44.44" cy="940" rx=".563" ry="15.6"/><ellipse cx="45.44" cy="1095" rx=".563" ry="15.6"/><ellipse cx="46.44" cy="1050" rx=".563" ry="15.6"/><ellipse cx="47.44" cy="900" rx=".563" ry="15.6"/><ellipse cx="48.44" cy="1020" rx=".563" ry="15.6"/><ellipse cx="49.44" cy="1025" rx=".563" ry="15.6"/>
<ellipse cx="50.44" cy="930" rx=".563" ry="15.6"/><ellipse cx="51.44" cy="1125" rx=".563" ry="15.6"/><ellipse cx="52.44" cy="965" rx=".563" ry="15.6"/><ellipse cx="53.44" cy="935" rx=".563" ry="15.6"/><ellipse cx="54.44" cy="950" rx=".563" ry="15.6"/><ellipse cx="55.44" cy="1058" rx=".563" ry="15.6"/><ellipse cx="56.44" cy="1070" rx=".563" ry="15.6"/><ellipse cx="57.44" cy="1010" rx=".563" ry="15.6"/><ellipse cx="58.44" cy="985" rx=".563" ry="15.6"/><ellipse cx="59.44" cy="960" rx=".563" ry="15.6"/>
<ellipse cx="60.44" cy="1070" rx=".563" ry="15.6"/><ellipse cx="61.44" cy="1180" rx=".563" ry="15.6"/><ellipse cx="62.44" cy="1185" rx=".563" ry="15.6"/><ellipse cx="63.44" cy="920" rx=".563" ry="15.6"/><ellipse cx="64.44" cy="940" rx=".563" ry="15.6"/><ellipse cx="65.44" cy="945" rx=".563" ry="15.6"/><ellipse cx="66.44" cy="1370" rx=".563" ry="15.6"/><ellipse cx="67.44" cy="1120" rx=".563" ry="15.6"/><ellipse cx="68.44" cy="835" rx=".563" ry="15.6"/><ellipse cx="69.44" cy="1045" rx=".563" ry="15.6"/>
<ellipse cx="70.44" cy="1120" rx=".563" ry="15.6"/><ellipse cx="71.44" cy="920" rx=".563" ry="15.6"/><ellipse cx="72.44" cy="1040" rx=".563" ry="15.6"/><ellipse cx="73.44" cy="1003" rx=".563" ry="15.6"/><ellipse cx="74.44" cy="1003" rx=".563" ry="15.6"/><ellipse cx="75.44" cy="973" rx=".563" ry="15.6"/><ellipse cx="76.44" cy="740" rx=".563" ry="15.6"/><ellipse cx="77.44" cy="960" rx=".563" ry="15.6"/><ellipse cx="78.44" cy="1110" rx=".563" ry="15.6"/><ellipse cx="79.44" cy="1275" rx=".563" ry="15.6"/>
<ellipse cx="80.44" cy="970" rx=".563" ry="15.6"/><ellipse cx="81.44" cy="1065" rx=".563" ry="15.6"/><ellipse cx="82.44" cy="1075" rx=".563" ry="15.6"/><ellipse cx="83.44" cy="995" rx=".563" ry="15.6"/><ellipse cx="84.44" cy="975" rx=".563" ry="15.6"/><ellipse cx="85.44" cy="1085" rx=".563" ry="15.6"/><ellipse cx="86.44" cy="995" rx=".563" ry="15.6"/><ellipse cx="87.44" cy="950" rx=".563" ry="15.6"/><ellipse cx="88.44" cy="1005" rx=".563" ry="15.6"/><ellipse cx="89.44" cy="1045" rx=".563" ry="15.6"/>
<ellipse cx="90.44" cy="970" rx=".563" ry="15.6"/><ellipse cx="91.44" cy="1110" rx=".563" ry="15.6"/><ellipse cx="92.44" cy="1020" rx=".563" ry="15.6"/><ellipse cx="93.44" cy="1140" rx=".563" ry="15.6"/><ellipse cx="94.44" cy="1000" rx=".563" ry="15.6"/><ellipse cx="95.44" cy="1070" rx=".563" ry="15.6"/><ellipse cx="96.44" cy="845" rx=".563" ry="15.6"/><ellipse cx="97.44" cy="1040" rx=".563" ry="15.6"/><ellipse cx="98.44" cy="985" rx=".563" ry="15.6"/><ellipse cx="99.44" cy="1035" rx=".563" ry="15.6"/>
<ellipse cx="100.44" cy="1150" rx=".563" ry="15.6"/><ellipse cx="101.44" cy="890" rx=".563" ry="15.6"/><ellipse cx="102.44" cy="1075" rx=".563" ry="15.6"/><ellipse cx="103.44" cy="1115" rx=".563" ry="15.6"/><ellipse cx="104.44" cy="1125" rx=".563" ry="15.6"/><ellipse cx="105.44" cy="1095" rx=".563" ry="15.6"/><ellipse cx="106.44" cy="1075" rx=".563" ry="15.6"/><ellipse cx="107.44" cy="985" rx=".563" ry="15.6"/><ellipse cx="108.44" cy="1050" rx=".563" ry="15.6"/><ellipse cx="109.44" cy="1010" rx=".563" ry="15.6"/>
<ellipse cx="110.44" cy="1000" rx=".563" ry="15.6"/><ellipse cx="111.44" cy="920" rx=".563" ry="15.6"/><ellipse cx="112.44" cy="1075" rx=".563" ry="15.6"/><ellipse cx="113.44" cy="795" rx=".563" ry="15.6"/><ellipse cx="114.44" cy="555" rx=".563" ry="15.6"/><ellipse cx="115.44" cy="185" rx=".563" ry="15.6"/>
</g>
</g>

<g font-size="31" fill="#333" text-anchor="end">
<text transform="translate(258.3,2696) rotate(-45)">4/1/2024</text>
<text transform="translate(304.5,2696) rotate(-45)">8/2/2024</text>
<text transform="translate(350.7,2696) rotate(-45)">14/3/2024</text>
<text transform="translate(396.9,2696) rotate(-45)">17/4/2024</text>
<text transform="translate(443.1,2696) rotate(-45)">23/5/2024</text>
<text transform="translate(489.4,2696) rotate(-45)">27/6/2024</text>
<text transform="translate(535.6,2696) rotate(-45)">1/8/2024</text>
<text transform="translate(581.8,2696) rotate(-45)">5/9/2024</text>
<text transform="translate(628,2696) rotate(-45)">10/10/2024</text>
<text transform="translate(674.2,2696) rotate(-45)">14/11/2024</text>
<text transform="translate(720.4,2696) rotate(-45)">19/12/2024</text>
<text transform="translate(766.6,2696) rotate(-45)">23/1/2025</text>
<text transform="translate(812.8,2696) rotate(-45)">27/2/2025</text>
<text transform="translate(859,2696) rotate(-45)">3/4/2025</text>
<text transform="translate(905.2,2696) rotate(-45)">8/5/2025</text>
<text transform="translate(951.5,2696) rotate(-45)">12/6/2025</text>
<text transform="translate(997.7,2696) rotate(-45)">10/7/2025</text>
<text transform="translate(1043.9,2696) rotate(-45)">14/8/2025</text>
<text transform="translate(1090.1,2696) rotate(-45)">18/9/2025</text>
<text transform="translate(1136.3,2696) rotate(-45)">23/10/2025</text>
<text transform="translate(1182.5,2696) rotate(-45)">27/11/2025</text>
<text transform="translate(1228.7,2696) rotate(-45)">31/12/2025</text>
<text transform="translate(1274.9,2696) rotate(-45)">5/2/2026</text>
<text transform="translate(1321.1,2696) rotate(-45)">7/3/2026</text>
</g>

<!-- footer -->
<text x="574" y="2965" font-size="32" font-style="italic" fill="#333" textLength="397" lengthAdjust="spacingAndGlyphs">Nguồn: Bộ Công Thương</text>
<text x="1210" y="2963" font-size="64" fill="#3c55a5" textLength="39" lengthAdjust="spacingAndGlyphs">©</text>
<text x="1268" y="2972" font-size="76" font-weight="700" fill="#3c55a5" textLength="196" lengthAdjust="spacingAndGlyphs">TTXVN</text>
<path d="M1382,2960 Q1405,2950 1420,2918" fill="none" stroke="#d0312d" stroke-width="3"/>
<text x="1335" y="2988" font-size="13" font-style="italic" fill="#d0312d" textLength="129" lengthAdjust="spacingAndGlyphs">Vietnam News Agency</text>
<path d="M0,2967 L364,2967 L388,3007 L1500,3007 L1500,3030 L0,3030 Z" fill="#3c55a5"/>
<text x="38" y="3010" font-size="40" font-style="italic" fill="#fff" textLength="302" lengthAdjust="spacingAndGlyphs">https://infographics.vn</text>
</svg>
</body></html>
